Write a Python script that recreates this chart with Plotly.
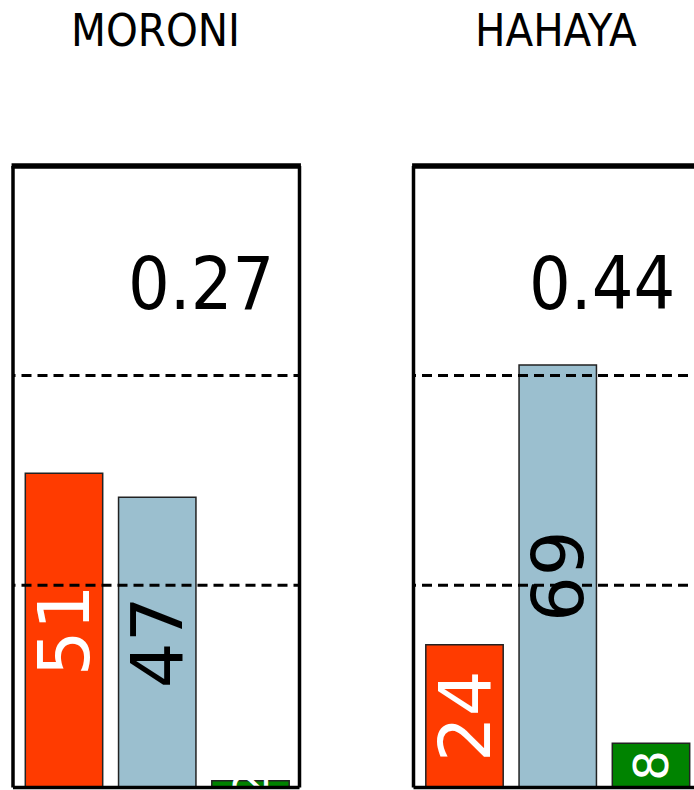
import plotly.graph_objects as go

# ---- data ----
panels = ["MORONI", "HAHAYA"]
categories = ["c1", "c2", "c3"]
moroni_values = [51.1, 47.2, 1.1]
hahaya_values = [23.2, 68.7, 7.2]
moroni_labels = ["51", "47", "2"]
hahaya_labels = ["24", "69", "8"]
panel_stats = ["0.27", "0.44"]
ref_lines = [32.9, 67.0]

# ---- styles ----
bar_colors = ["#FF3B00", "#9BBFCF", "#008300"]
label_colors = ["white", "black", "white"]
label_sizes = [72, 72, 48]

W, H = 694, 790
fig = go.Figure()

values = [moroni_values, hahaya_values]
labels = [moroni_labels, hahaya_labels]
axes = [("x", "y"), ("x2", "y2")]

for i in range(2):
    xa, ya = axes[i]
    fig.add_trace(go.Bar(
        x=categories, y=values[i], text=labels[i],
        xaxis=xa, yaxis=ya,
        width=0.83,
        marker=dict(color=bar_colors, line=dict(color="#222222", width=1.5)),
        textposition="inside", insidetextanchor="middle", textangle=-90,
        constraintext="none",
        insidetextfont=dict(family="DejaVu Sans, sans-serif", size=label_sizes, color=label_colors),
        showlegend=False, hoverinfo="skip",
    ))

y_bottom_px, y_top_px = 787.5, 166
px_per_unit = 6.15
y_top_val = (y_bottom_px - y_top_px) / px_per_unit
ydom = [(H - y_bottom_px) / H, (H - y_top_px) / H]

cat_px = 93.25
lp_left, lp_right = 13, 299.5
rp_left = 413.5
first_center_offset = 51

ax_common = dict(showgrid=False, zeroline=False, showticklabels=False, ticks="", showline=False, fixedrange=True)
fig.update_layout(
    width=W, height=H,
    margin=dict(l=0, r=0, t=0, b=0),
    paper_bgcolor="white", plot_bgcolor="white",
    xaxis=dict(domain=[lp_left / W, lp_right / W],
               range=[-first_center_offset / cat_px, -first_center_offset / cat_px + (lp_right - lp_left) / cat_px],
               **ax_common),
    yaxis=dict(domain=ydom, range=[0, y_top_val], **ax_common),
    xaxis2=dict(domain=[rp_left / W, 1], anchor="y2",
                range=[-first_center_offset / cat_px, -first_center_offset / cat_px + (W - rp_left) / cat_px],
                **ax_common),
    yaxis2=dict(domain=ydom, range=[0, y_top_val], anchor="x2", **ax_common),
)

shapes = []
for i in range(2):
    xa, ya = axes[i]
    for v in ref_lines:
        shapes.append(dict(type="line", xref=xa, yref=ya, x0=-2, x1=4, y0=v, y1=v,
                           line=dict(color="black", width=3, dash="10px,6px"), layer="above"))
# borders
for i in range(2):
    xa, ya = axes[i]
    xd, yd = xa + " domain", ya + " domain"
    shapes.append(dict(type="line", xref=xd, yref=yd, x0=0, x1=0, y0=0, y1=1, line=dict(color="black", width=3.5)))
    shapes.append(dict(type="line", xref=xd, yref=yd, x0=0, x1=1, y0=0, y1=0, line=dict(color="black", width=3.5)))
    shapes.append(dict(type="line", xref=xd, yref=yd, x0=-0.005, x1=1.005, y0=1, y1=1, line=dict(color="black", width=5.5)))
    if i == 0:
        shapes.append(dict(type="line", xref=xd, yref=yd, x0=1, x1=1, y0=0, y1=1, line=dict(color="black", width=3.5)))
fig.update_layout(shapes=shapes)

narrow = "DejaVu Sans Condensed, Liberation Sans, sans-serif"
title_font = dict(family=narrow, size=45, color="black")
stat_font = dict(family=narrow, size=73, color="black")
title_centers = [155, 556]
annots = []
for i in range(2):
    xa, ya = axes[i]
    annots.append(dict(text=panels[i], xref="paper", yref="paper", x=title_centers[i] / W, y=1 - 31 / H,
                       xanchor="center", yanchor="middle", showarrow=False, font=title_font))
    annots.append(dict(text=panel_stats[i], xref=xa, yref=ya, x=2.275, y=82,
                       xanchor="right", yanchor="middle", showarrow=False, font=stat_font))
fig.update_layout(annotations=annots)

fig.write_html("out.html", config={"displayModeBar": False},
               post_script="document.body.style.margin='0px';")
